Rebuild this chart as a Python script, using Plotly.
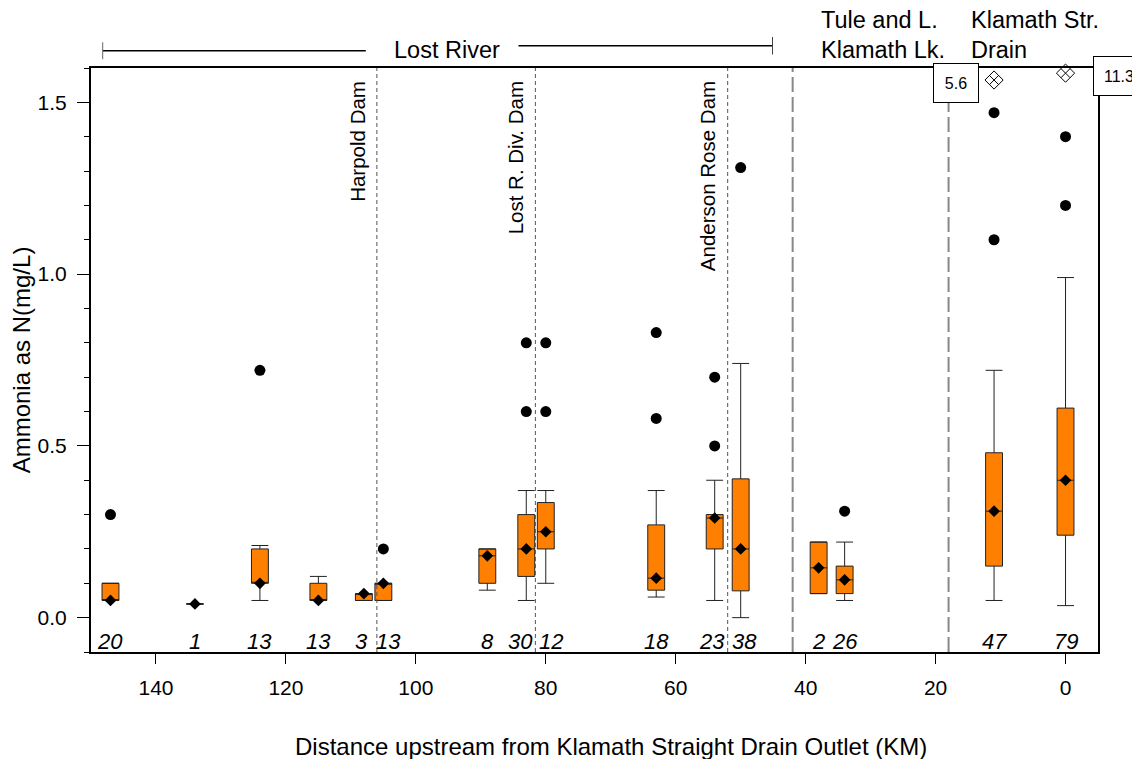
import plotly.graph_objects as go

# ---------------- data ----------------
positions = [147, 134, 124, 115, 108, 105, 89, 83, 80, 63, 54, 50, 38, 34, 11, 0]
counts = [20, 1, 13, 13, 3, 13, 8, 30, 12, 18, 23, 38, 2, 26, 47, 79]
q1 = [0.05, 0.04, 0.10, 0.05, 0.05, 0.05, 0.10, 0.12, 0.20, 0.08, 0.20, 0.078, 0.07, 0.07, 0.15, 0.24]
medians = [0.05, 0.04, 0.10, 0.05, 0.07, 0.10, 0.18, 0.20, 0.25, 0.115, 0.29, 0.20, 0.145, 0.11, 0.31, 0.40]
q3 = [0.10, 0.04, 0.20, 0.10, 0.07, 0.10, 0.20, 0.30, 0.335, 0.27, 0.30, 0.404, 0.22, 0.15, 0.48, 0.61]
whisk_lo = [0.05, 0.04, 0.05, 0.05, 0.05, 0.05, 0.08, 0.05, 0.10, 0.06, 0.05, 0.0, 0.07, 0.05, 0.05, 0.035]
whisk_hi = [0.10, 0.04, 0.21, 0.12, 0.07, 0.10, 0.20, 0.37, 0.37, 0.37, 0.40, 0.74, 0.22, 0.22, 0.72, 0.99]

outlier_x = [147, 124, 105, 83, 83, 80, 80, 63, 63, 54, 54, 50, 34, 11, 11, 0, 0]
outlier_y = [0.30, 0.72, 0.20, 0.80, 0.60, 0.80, 0.60, 0.83, 0.58, 0.70, 0.50, 1.31, 0.31, 1.10, 1.47, 1.20, 1.40]

offscale_x = [11, 0]
offscale_y = [1.565, 1.585]
offscale_labels = ["5.6", "11.3"]

dam_names = ["Harpold Dam", "Lost R. Div. Dam", "Anderson Rose Dam"]
dam_x = [106.0, 81.6, 52.0]
region_bounds = [42.0, 18.0]

x_ticks = [140, 120, 100, 80, 60, 40, 20, 0]

# ---------------- styling ----------------
FONT = "Arial, Liberation Sans, sans-serif"
ORANGE = "#FF8000"
count_xshift = [0, 0, 0, 0, -2, 5, 0, -6, 5, 0, -3, 4, 0, 0, 0, 0]

fig = go.Figure()

for i, p in enumerate(positions):
    fig.add_trace(go.Box(
        x=[p], q1=[q1[i]], median=[medians[i]], q3=[q3[i]],
        lowerfence=[whisk_lo[i]], upperfence=[whisk_hi[i]],
        width=2.6, whiskerwidth=1, fillcolor=ORANGE,
        line=dict(color="#222222", width=1), boxpoints=False,
        hoverinfo="skip", showlegend=False,
    ))

fig.add_trace(go.Scatter(
    x=positions, y=medians, mode="markers",
    marker=dict(symbol="diamond", size=9, color="black"),
    hoverinfo="skip", showlegend=False, cliponaxis=False,
))
fig.add_trace(go.Scatter(
    x=outlier_x, y=outlier_y, mode="markers",
    marker=dict(symbol="circle", size=11, color="black"),
    hoverinfo="skip", showlegend=False,
))
fig.add_trace(go.Scatter(
    x=offscale_x, y=offscale_y, mode="markers",
    marker=dict(symbol="diamond-x-open", size=14, color="black", line=dict(width=1)),
    hoverinfo="skip", showlegend=False, cliponaxis=False,
))

shapes = []
for dx in dam_x:
    shapes.append(dict(type="line", xref="x", yref="paper", x0=dx, x1=dx, y0=0, y1=1,
                       line=dict(color="#555555", width=1, dash="4px,3px"), layer="above"))
for bx in region_bounds:
    shapes.append(dict(type="line", xref="x", yref="paper", x0=bx, x1=bx, y0=0, y1=1,
                       line=dict(color="#888888", width=2, dash="15px,5px"), layer="above"))

# Lost River span bar
shapes.append(dict(type="line", xref="x", yref="paper", x0=148.2, x1=107.7, y0=1.0296, y1=1.0296,
                   line=dict(color="black", width=1.5)))
shapes.append(dict(type="line", xref="x", yref="paper", x0=84.2, x1=45.1, y0=1.038, y1=1.038,
                   line=dict(color="black", width=1.5)))
shapes.append(dict(type="line", xref="x", yref="paper", x0=148.2, x1=148.2, y0=1.015, y1=1.044,
                   line=dict(color="#666666", width=1)))
shapes.append(dict(type="line", xref="x", yref="paper", x0=45.1, x1=45.1, y0=1.023, y1=1.053,
                   line=dict(color="#444444", width=1)))

annotations = []
for i, (p, n) in enumerate(zip(positions, counts)):
    annotations.append(dict(x=p, y=-0.069, xref="x", yref="y", text=f"<i>{n}</i>", showarrow=False,
                            xshift=count_xshift[i],
                            font=dict(size=22, family=FONT, color="black"), xanchor="center", yanchor="middle"))
for name, dx in zip(dam_names, dam_x):
    annotations.append(dict(x=dx, y=1.568, xref="x", yref="y", text=name, showarrow=False, textangle=-90,
                            xanchor="right", yanchor="top", xshift=-6,
                            font=dict(size=20.5, family=FONT, color="black")))
# off-scale value labels
annotations.append(dict(x=16.9, y=1.557, xref="x", yref="y", text=offscale_labels[0], showarrow=False,
                        bordercolor="black", borderwidth=1, bgcolor="white", borderpad=0,
                        width=44, height=38, font=dict(size=16, family=FONT, color="black")))
annotations.append(dict(x=0.995, y=1.577, xref="paper", yref="y", text=offscale_labels[1], showarrow=False,
                        xanchor="left", bordercolor="black", borderwidth=1, bgcolor="white", borderpad=0,
                        width=50, height=38, font=dict(size=16, family=FONT, color="black")))

TOP = dict(size=23.5, family=FONT, color="black")
annotations.append(dict(x=95.2, y=1.0308, xref="x", yref="paper", text="Lost River", showarrow=False,
                        xanchor="center", yanchor="middle", font=TOP))
annotations.append(dict(x=38.0, y=1.082, xref="x", yref="paper", text="Tule and L.", showarrow=False,
                        xanchor="left", yanchor="middle", font=TOP))
annotations.append(dict(x=38.0, y=1.0308, xref="x", yref="paper", text="Klamath Lk.", showarrow=False,
                        xanchor="left", yanchor="middle", font=TOP))
annotations.append(dict(x=14.8, y=1.082, xref="x", yref="paper", text="Klamath Str.", showarrow=False,
                        xanchor="left", yanchor="middle", font=TOP))
annotations.append(dict(x=14.8, y=1.0308, xref="x", yref="paper", text="Drain", showarrow=False,
                        xanchor="left", yanchor="middle", font=TOP))

# x-axis title (slightly right of centre, as in the original)
annotations.append(dict(x=0.5, y=-0.161, xref="paper", yref="paper", xshift=16,
                        text="Distance upstream from Klamath Straight Drain Outlet (KM)", showarrow=False,
                        xanchor="center", yanchor="middle", font=dict(size=24, family=FONT, color="black")))

# page body has an 8px margin, so the figure is 8px smaller and offsets shifted
fig.update_layout(
    width=1132, height=751,
    margin=dict(l=83, r=42, t=60, b=107, autoexpand=False),
    plot_bgcolor="white", paper_bgcolor="white",
    font=dict(family=FONT, size=21, color="black"),
    showlegend=False, boxmode="overlay",
    shapes=shapes, annotations=annotations,
)
fig.update_xaxes(
    range=[150, -5], tickmode="array", tickvals=x_ticks, ticktext=[str(t) for t in x_ticks],
    ticks="outside", ticklen=10, tickwidth=1, tickcolor="black",
    showline=True, linecolor="black", linewidth=2, mirror=True,
    showgrid=False, zeroline=False, ticklabelstandoff=6, automargin=False,
)
fig.update_yaxes(
    range=[-0.1, 1.6], tickmode="linear", tick0=0, dtick=0.5, tickformat=".1f",
    ticks="outside", ticklen=12, tickwidth=1, tickcolor="black",
    minor=dict(dtick=0.1, tick0=0, ticks="outside", ticklen=5, tickcolor="black", tickwidth=1),
    showline=True, linecolor="black", linewidth=2, mirror=True,
    showgrid=False, zeroline=False, ticklabelstandoff=6, automargin=False,
    title=dict(text="Ammonia as N(mg/L)", font=dict(size=24, family=FONT), standoff=3),
)

fig.write_html("out.html")
